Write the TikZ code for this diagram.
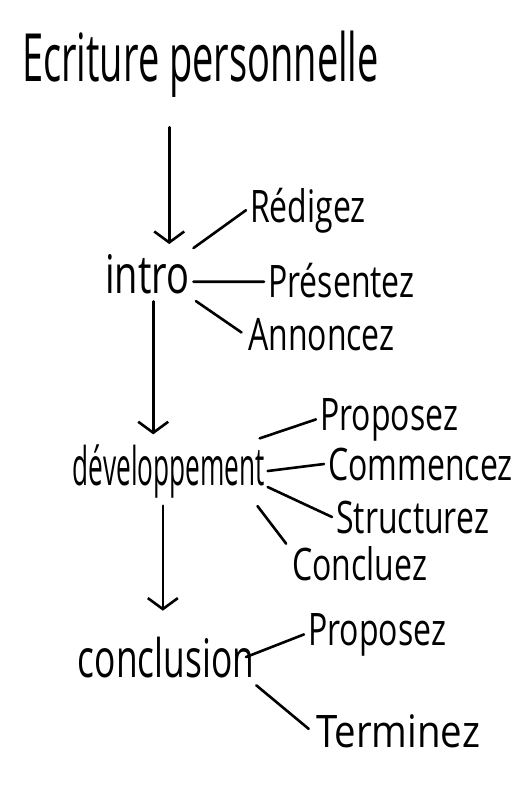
\documentclass[tikz,border=0pt]{standalone}
\usepackage{fontspec}
\setmainfont{Open Sans}
\usetikzlibrary{arrows.meta}
\begin{document}
\begin{tikzpicture}[x=1pt,y=1pt]
		\tikzstyle{every node}=[anchor=base west,inner sep=4pt,yscale=1.4];
		\tikzstyle{titre}=[font=\fontsize{38}{40}\selectfont,yscale=1.25];
		\tikzstyle{etape}=[font=\fontsize{38}{40}\selectfont];
		\tikzstyle{verbe}=[font=\fontsize{32}{36}\selectfont];
		\tikzstyle{trait}=[line width=2.6pt,line cap=round,shorten >=3pt,shorten <=3pt];
		\tikzstyle{fleche}=[line width=2.6pt,line cap=round,-{Straight Barb[length=11pt,width=30pt,line width=2.6pt]}];
		\useasboundingbox (0,0) rectangle (513,-808);
		% plan
		\node[titre] (titre) at (18,-82) {Ecriture personnelle};
		\node[etape] (intro) at (101,-293) {intro};
		\node[etape,xscale=0.69] (dev) at (70,-485) {développement};
		\node[etape,xscale=0.93] (concl) at (74,-677) {conclusion};
		% intro
		\node[verbe] (redigez) at (246,-222) {Rédigez};
		\node[verbe] (presentez) at (264,-297) {Présentez};
		\node[verbe] (annoncez) at (244,-350) {Annoncez};
		% developpement
		\node[verbe] (proposez1) at (316,-430) {Proposez};
		\node[verbe] (commencez) at (324,-480) {Commencez};
		\node[verbe] (structurez) at (332,-533) {Structurez};
		\node[verbe] (concluez) at (288,-580) {Concluez};
		% conclusion
		\node[verbe] (proposez2) at (304,-645) {Proposez};
		\node[verbe,xscale=1.2] (terminez) at (311,-747) {Terminez};
		\draw[fleche,shorten <=22pt,shorten >=4pt] ([xshift=22pt]intro.north |- titre.south) -- ([xshift=22pt]intro.north);
		\draw[fleche,shorten <=2pt,shorten >=4pt] ([xshift=6pt]intro.south) -- ([xshift=6pt]intro.south |- dev.north);
		\draw[fleche,shorten <=2pt,shorten >=20pt] ([xshift=-6pt]dev.south) -- ([xshift=-6pt]dev.south |- concl.north);
		\draw[trait] (intro.north east) -- (redigez.west)
		([yshift=-8pt]intro.east) -- ([yshift=-8pt]intro.east -| presentez.west)
		(intro.south east) -- (annoncez.west);
		\draw[trait] ([xshift=-8pt]dev.north east) -- (proposez1.west)
		(dev.east) -- (commencez.west)
		([yshift=-16pt]dev.east) -- (structurez.west)
		([xshift=-12pt]dev.south east) -- ([yshift=-6pt]concluez.north west);
		\draw[trait] ([xshift=-12pt]concl.east) -- (proposez2.west)
		([xshift=-4pt]concl.south east) -- (terminez.west);
\end{tikzpicture}
\end{document}
